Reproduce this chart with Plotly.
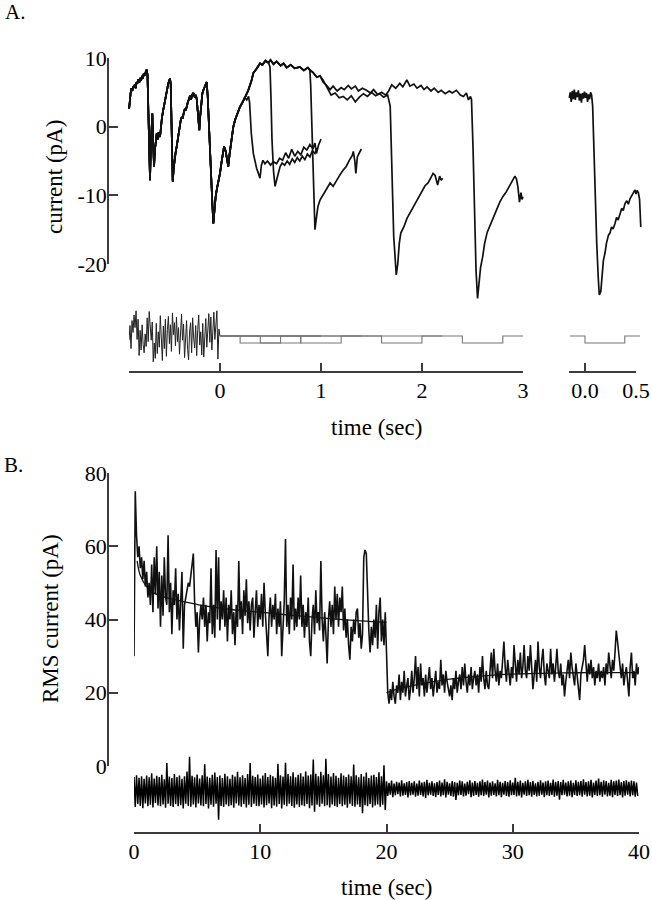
import plotly.graph_objects as go

# ======================= DATA =======================
# ---- Panel A: whole-cell current (pA) vs time (s), five overlaid sweeps ----
# segment common to all sweeps (before the first pulse response)
pre = [(-0.900, 2.6), (-0.893, 4.4), (-0.885, 4.9), (-0.877, 5.6), (-0.868, 5.2), (-0.860, 5.9),
       (-0.851, 5.7), (-0.843, 6.2), (-0.834, 5.6), (-0.826, 6.5), (-0.817, 6.3), (-0.808, 6.9),
       (-0.800, 6.4), (-0.790, 7.1), (-0.781, 6.7), (-0.772, 7.4), (-0.763, 7.0), (-0.754, 7.8),
       (-0.745, 7.5), (-0.735, 8.0), (-0.726, 8.3), (-0.718, 7.6), (-0.710, 1.0), (-0.700, -5.5),
       (-0.693, -7.8), (-0.684, -2.5), (-0.676, 1.3), (-0.670, 1.9), (-0.663, -2.0), (-0.653, -5.8),
       (-0.645, -3.5), (-0.636, -1.8), (-0.627, -1.0), (-0.618, -1.9), (-0.608, -0.8), (-0.594, -1.5),
       (-0.585, 0.2), (-0.575, 1.3), (-0.565, 2.2), (-0.555, 3.1), (-0.545, 3.8), (-0.535, 4.9),
       (-0.525, 5.5), (-0.512, 6.3), (-0.503, 6.7), (-0.495, 7.0), (-0.488, 6.2), (-0.480, -1.0),
       (-0.468, -8.0), (-0.458, -6.0), (-0.449, -4.5), (-0.439, -3.7), (-0.429, -2.9), (-0.419, -1.8),
       (-0.409, -0.6), (-0.399, 0.1), (-0.389, 0.9), (-0.379, 1.4), (-0.369, 1.2), (-0.359, 2.0),
       (-0.348, 2.6), (-0.338, 2.4), (-0.330, 3.0), (-0.318, 3.6), (-0.307, 4.0), (-0.297, 4.5),
       (-0.287, 3.9), (-0.277, 4.6), (-0.264, 4.9), (-0.250, 4.3), (-0.240, 4.6), (-0.231, 4.1),
       (-0.222, 2.5), (-0.213, 0.4), (-0.205, -0.5), (-0.196, 1.5), (-0.185, 3.6), (-0.175, 4.8),
       (-0.165, 5.3), (-0.150, 6.0), (-0.132, 6.5), (-0.122, 4.5), (-0.106, -1.9), (-0.090, -7.0),
       (-0.075, -11.5), (-0.066, -14.1), (-0.056, -12.0), (-0.043, -10.2), (-0.030, -9.0), (-0.015, -8.0),
       (0.000, -6.8), (0.015, -5.2), (0.030, -3.7), (0.040, -2.9), (0.055, -3.5), (0.070, -4.9),
       (0.082, -5.8), (0.095, -4.0), (0.110, -2.0), (0.132, 0.0), (0.150, 1.0), (0.165, 1.6),
       (0.180, 2.4), (0.198, 2.9)]

# upper plateau shared by the later sweeps
plateau = [(0.24, 4.0), (0.28, 5.3), (0.31, 6.6), (0.33, 7.8), (0.36, 8.4), (0.396, 9.2), (0.42, 9.0),
           (0.45, 9.6), (0.48, 9.3), (0.50, 9.7), (0.53, 9.1), (0.56, 9.5), (0.60, 8.9), (0.63, 9.2),
           (0.66, 8.6), (0.70, 9.0), (0.74, 8.5), (0.79, 8.7), (0.83, 8.2), (0.87, 8.6), (0.89, 8.25),
           (0.92, 7.9), (0.96, 7.2), (0.99, 7.4), (1.02, 6.5), (1.05, 6.1), (1.09, 5.4), (1.12, 5.9),
           (1.16, 5.2), (1.20, 5.7), (1.23, 5.4), (1.27, 6.0), (1.30, 5.5), (1.34, 5.9), (1.37, 5.2),
           (1.41, 5.6), (1.45, 5.3), (1.49, 4.9), (1.52, 5.4), (1.56, 4.7), (1.60, 5.0), (1.64, 4.6),
           (1.67, 5.2), (1.70, 6.1), (1.74, 5.6), (1.78, 6.3), (1.81, 5.8), (1.85, 6.8), (1.88, 5.9),
           (1.92, 6.2), (1.95, 5.6), (1.99, 6.0), (2.02, 5.4), (2.05, 5.8), (2.09, 5.2), (2.12, 5.6),
           (2.16, 5.0), (2.19, 5.3), (2.23, 4.8), (2.27, 5.2), (2.30, 4.9), (2.34, 5.3), (2.38, 4.6),
           (2.41, 4.4), (2.44, 4.9), (2.46, 3.9), (2.48, 4.4)]
# second (lower) plateau line of sweep 4
plateau_b = [(1.02, 6.8), (1.06, 5.8), (1.10, 4.6), (1.14, 4.9), (1.18, 4.2), (1.22, 4.4), (1.26, 3.9),
             (1.30, 4.5), (1.34, 3.6), (1.38, 4.3), (1.42, 4.8), (1.46, 4.4), (1.50, 5.0), (1.54, 4.5),
             (1.58, 4.8), (1.62, 4.3), (1.66, 4.6)]

tail1 = [(0.22, 3.4), (0.245, 4.3), (0.265, 3.9), (0.283, 4.4), (0.293, 3.5), (0.31, -1.0), (0.33, -3.9),
         (0.345, -5.0), (0.363, -6.1), (0.38, -6.8), (0.396, -7.5), (0.41, -5.6), (0.425, -4.9),
         (0.445, -5.4), (0.47, -5.0), (0.50, -5.6), (0.53, -5.1), (0.56, -5.4), (0.59, -4.6), (0.62, -4.9),
         (0.65, -3.8), (0.68, -4.6), (0.71, -3.3), (0.74, -4.3), (0.77, -3.6), (0.80, -4.1), (0.83, -3.0),
         (0.86, -3.4), (0.89, -2.6), (0.92, -3.2), (0.94, -2.4), (0.955, -3.9), (0.975, -2.7), (1.0, -1.8)]
tail2 = [(0.495, 8.7), (0.505, 4.0), (0.515, -2.0), (0.53, -6.5), (0.545, -8.7), (0.56, -7.8), (0.575, -6.8),
         (0.595, -5.8), (0.615, -5.3), (0.64, -5.6), (0.665, -5.0), (0.69, -5.5), (0.715, -4.7), (0.74, -5.2),
         (0.765, -4.5), (0.79, -5.0), (0.815, -4.3), (0.84, -4.8), (0.865, -4.0), (0.89, -4.4), (0.915, -3.5),
         (0.94, -3.9), (0.96, -3.1)]
tail3 = [(0.898, 6.0), (0.91, 0.0), (0.925, -8.0), (0.94, -15.0), (0.955, -13.2), (0.97, -11.6), (0.99, -10.7),
         (1.01, -10.2), (1.04, -9.5), (1.07, -8.9), (1.09, -8.2), (1.12, -8.7), (1.15, -7.9), (1.18, -7.2),
         (1.22, -6.3), (1.25, -5.8), (1.28, -4.9), (1.31, -4.2), (1.32, -3.6), (1.335, -5.0), (1.345, -6.8),
         (1.36, -4.4), (1.38, -3.8), (1.40, -3.25)]
tail4 = [(1.685, 3.0), (1.70, -6.0), (1.72, -16.0), (1.745, -21.6), (1.76, -20.0), (1.775, -17.0), (1.79, -15.5),
         (1.82, -14.6), (1.85, -13.4), (1.88, -12.6), (1.91, -11.8), (1.94, -10.9), (1.97, -10.2), (2.00, -9.5),
         (2.03, -8.6), (2.06, -8.2), (2.09, -7.4), (2.11, -6.8), (2.13, -7.1), (2.155, -8.5), (2.175, -7.2),
         (2.19, -7.8), (2.205, -7.5)]
tail5 = [(2.49, 4.0), (2.505, -3.0), (2.52, -14.0), (2.535, -21.0), (2.55, -25.0), (2.565, -23.0), (2.58, -20.5),
         (2.60, -19.0), (2.62, -17.0), (2.645, -15.4), (2.67, -14.5), (2.70, -13.4), (2.73, -12.2), (2.77, -11.0),
         (2.80, -10.2), (2.83, -9.6), (2.86, -8.8), (2.89, -8.0), (2.92, -7.2), (2.935, -7.6), (2.95, -8.8),
         (2.965, -11.0), (2.98, -9.6), (2.99, -10.6), (3.0, -10.2)]
# right-hand inset sweep (its own time base, 0 = pulse onset)
inset = [(-0.154, 4.2), (-0.145, 5.0), (-0.135, 3.6), (-0.125, 5.2), (-0.115, 4.0), (-0.105, 5.4), (-0.095, 3.9),
         (-0.085, 5.0), (-0.075, 4.3), (-0.065, 5.3), (-0.055, 3.8), (-0.045, 4.8), (-0.035, 3.5), (-0.025, 4.9),
         (-0.015, 4.1), (-0.005, 5.1), (0.005, 4.2), (0.015, 4.9), (0.025, 3.6), (0.035, 4.7), (0.045, 4.0),
         (0.055, 5.0), (0.065, 4.6), (0.075, 3.0), (0.085, -2.0), (0.10, -10.0), (0.115, -17.0), (0.13, -22.0),
         (0.14, -24.5), (0.155, -24.0), (0.165, -22.5), (0.18, -19.5), (0.196, -18.4), (0.21, -17.0),
         (0.23, -15.8), (0.245, -15.5), (0.26, -14.6), (0.275, -14.9), (0.294, -14.1), (0.31, -13.2),
         (0.325, -13.6), (0.343, -12.6), (0.36, -11.9), (0.375, -12.2), (0.392, -11.2), (0.41, -10.8),
         (0.425, -11.3), (0.441, -10.5), (0.46, -10.0), (0.475, -9.6), (0.49, -9.2), (0.50, -9.8),
         (0.51, -9.3), (0.523, -9.6), (0.535, -10.6), (0.547, -14.6)]

# stimulus (relative level: 0 = rest, -1 = pulse)
stim_noise = [-0.6, 1.5, -1.8, 2.2, 0.5, 3.0, 1.2, 3.6, -0.5, 2.4,
              -2.8, 0.8, -2.0, 1.6, -1.2, -2.4, 0.3, -1.5, 2.6, -0.8,
              3.5, 1.0, -0.6, 2.0, -3.7, -1.0, -3.2, 1.8, -2.5, 0.6,
              -1.6, 2.9, -0.4, -3.5, 1.4, -1.8, 2.4, -2.9, 0.9, 2.8,
              -1.1, 1.6, -2.2, 3.3, 0.2, 1.9, -1.4, 2.7, -0.8, 1.2,
              -2.6, 0.8, 3.1, -0.6, 1.7, -3.1, 0.4, 2.2, -1.9, -3.4,
              0.7, 1.9, -2.4, 2.6, -0.3, -1.7, 1.5, -2.8, 0.9, 3.0,
              -1.3, 0.6, -2.7, 1.8, -3.0, 0.3, 2.5, -1.6, 1.2, 3.2,
              -0.9, 2.7, -2.0, 0.8, 3.4, -0.5, 2.1, 3.6, -3.3, 1.0, 0.0]
stim_noise_t0, stim_noise_dt = -0.9, 0.01
stim_on = [0.2, 0.4, 0.8, 1.6, 2.4]
stim_off = [0.6, 0.8, 1.2, 2.0, 2.8]
stim_end = [1.0, 1.0, 1.4, 2.2, 3.0]
stim_r_t = [-0.147, 0.0, 0.0, 0.39, 0.39, 0.54]
stim_r_y = [0, 0, -1, -1, 0, 0]

# ---- Panel B: RMS current (pA), one value every 0.1 s from 0 to 40 s ----
rms_dt = 0.1
rms = [30, 75, 63, 57, 60, 54, 57, 51, 56, 49,
       53, 46, 50, 44, 55, 42, 57, 47, 60, 43,
       53, 38, 52, 41, 57, 46, 44, 63, 42, 50,
       36, 48, 44, 54, 40, 47, 37, 46, 53, 32,
       44, 46, 48, 50, 49, 52, 54, 58, 45, 38,
       42, 31, 40, 44, 40, 46, 38, 44, 34, 42,
       39, 54, 36, 44, 35, 59, 40, 57, 37, 45,
       40, 48, 38, 46, 34, 44, 40, 48, 36, 42,
       33, 44, 38, 56, 40, 45, 36, 48, 41, 51,
       39, 45, 37, 44, 46, 35, 42, 48, 38, 44,
       40, 47, 38, 50, 42, 36, 30, 41, 46, 38,
       44, 40, 47, 36, 43, 38, 45, 30, 40, 45,
       62, 38, 44, 36, 46, 40, 55, 37, 43, 38,
       46, 40, 52, 38, 44, 35, 42, 38, 46, 34,
       30, 40, 44, 36, 48, 39, 42, 37, 56, 40,
       34, 42, 36, 28, 40, 45, 38, 44, 36, 49,
       40, 47, 38, 46, 42, 49, 37, 43, 35, 40,
       33, 29, 38, 34, 40, 36, 42, 43, 35, 39,
       32, 36, 57, 59, 58, 45, 37, 31, 38, 33,
       40, 35, 44, 32, 42, 46, 34, 40, 33, 42,
       33,
       20, 17, 21, 18, 23, 19, 17, 22, 20, 25,
       18, 23, 20, 26, 19, 22, 24, 18, 21, 26,
       20, 24, 30, 21, 27, 19, 28, 22, 24, 19,
       25, 20, 23, 27, 21, 24, 19, 22, 26, 20,
       23, 21, 29, 22, 25, 20, 26, 23, 21, 19,
       22, 18, 24, 21, 26, 20, 23, 25, 21, 27,
       22, 28, 23, 20, 25, 22, 27, 21, 24, 26,
       22, 25, 20, 27, 23, 30, 24, 21, 26, 22,
       21, 25, 31, 24, 32, 26, 23, 28, 22, 26,
       24, 29, 34, 27, 23, 29, 25, 22, 27, 24,
       33, 26, 23, 29, 25, 31, 24, 27, 33, 26,
       24, 30, 26, 33, 27, 21, 25, 29, 23, 34,
       27, 24, 29, 32, 25, 22, 28, 26, 24, 32,
       25, 28, 23, 27, 32, 26, 24, 28, 22, 25,
       19, 23, 26, 29, 24, 31, 27, 25, 22, 28,
       24, 21, 18, 25, 27, 29, 33, 26, 23, 28,
       25, 29, 24, 27, 22, 26, 24, 28, 23, 26,
       24, 27, 22, 28, 25, 31, 27, 24, 29, 26,
       31, 37, 34, 30, 26, 24, 28, 22, 25, 27,
       23, 19, 27, 31, 24, 26, 22, 28, 25, 27]
# fitted curves
fit1_t = [0.25, 0.5, 1, 1.5, 2, 3, 4, 5, 6, 8, 10, 12, 14, 16, 18, 20]
fit1_y = [56, 52, 49, 47.4, 46.6, 45.6, 44.8, 44.1, 43.5, 42.6, 42.0, 41.3, 40.7, 40.1, 39.6, 39.2]
fit2_t = [20, 21, 22, 23, 24, 25, 26, 28, 30, 32, 34, 36, 38, 40]
fit2_y = [20, 21.1, 21.9, 22.6, 23.2, 23.7, 24.1, 24.7, 25.1, 25.3, 25.4, 25.5, 25.5, 25.5]

# raw current (pA) shown as max/min per 0.2 s bin
raw_bin = 0.2
raw_hi = [-3.0, -2.5, -3.2, -2.8, -3.5, -2.6, -3.1, -2.0, -3.4, -2.7,
          -3.0, -2.4, -3.6, 0.8, -2.9, -3.3, -2.2, -3.0, -2.6, -3.5,
          -2.8, -1.5, 2.5, -2.7, -3.1, -2.3, -3.4, -2.5, 0.5, -2.9,
          -3.2, -2.4, -1.8, -3.0, -2.6, -3.3, -2.1, -2.8, -3.5, -2.4,
          -2.9, -1.6, -3.1, -2.5, -3.3, -2.2, 0.8, -2.7, -3.0, -2.3,
          -3.4, -2.6, -1.9, -3.0, -2.4, -2.8, -3.2, 0.6, -2.5, -2.9,
          0.9, -2.2, -2.8, -1.7, -3.1, -2.4, -2.0, -2.9, -1.5, -2.6,
          -2.3, 1.8, -2.1, -2.8, -1.6, -2.5, 2.0, -2.2, -2.9, -1.9,
          -2.7, -3.2, -2.0, -2.6, -3.0, -2.3, -2.8, 0.4, -2.5, -3.1,
          -2.2, -2.9, -1.8, -3.3, -2.6, -2.4, -3.0, -1.7, -2.8, 0.2,
          -4.2, -4.6, -4.0, -4.8, -4.3, -4.5, -3.9, -4.7, -4.4, -4.1,
          -4.6, -4.2, -4.8, -4.0, -4.5, -4.3, -3.8, -4.6, -4.2, -4.7,
          -4.4, -4.0, -4.5, -3.6, -4.3, -4.7, -4.1, -4.4, -4.6, -4.0,
          -4.2, -4.8, -4.3, -3.9, -4.5, -4.1, -4.6, -4.2, -3.7, -4.4,
          -4.0, -4.5, -4.2, -4.7, -3.8, -4.3, -4.6, -4.1, -4.4, -3.9,
          -4.5, -3.2, -4.3, -4.0, -4.6, -4.2, -3.8, -4.4, -4.1, -4.7,
          -4.3, -3.9, -4.5, -4.2, -4.0, -4.6, -3.7, -4.3, -4.1, -4.4,
          -3.8, -4.5, -4.2, -4.0, -4.6, -3.9, -4.3, -4.1, -3.6, -4.4,
          -4.2, -3.8, -4.5, -4.0, -3.4, -4.3, -3.9, -4.1, -4.6, -3.8,
          -4.2, -4.0, -3.7, -4.4, -4.1, -3.9, -4.3, -4.0, -4.2, -4.5]
raw_lo = [-11.2, -10.4, -10.9, -11.5, -10.2, -11.0, -10.6, -11.3, -10.1, -10.8,
          -11.0, -10.5, -11.4, -10.3, -10.9, -11.2, -10.4, -11.0, -10.7, -11.6,
          -10.3, -10.9, -11.1, -10.5, -11.3, -10.2, -10.8, -11.0, -10.4, -11.6,
          -10.6, -11.1, -10.3, -14.7, -10.9, -11.2, -10.5, -11.0, -10.7, -11.4,
          -10.2, -10.8, -11.1, -10.4, -11.3, -10.6, -11.2, -10.3, -10.9, -11.0,
          -10.5, -11.3, -10.7, -10.2, -11.5, -10.8, -11.1, -10.4, -11.6, -10.6,
          -11.0, -10.3, -10.9, -11.4, -10.5, -11.2, -10.7, -11.0, -10.4, -11.5,
          -10.8, -12.5, -10.6, -11.1, -10.3, -11.0, -10.7, -11.3, -10.5, -10.9,
          -11.2, -10.4, -11.0, -10.6, -11.4, -10.3, -10.9, -11.1, -10.5, -11.2,
          -12.9, -10.7, -11.0, -10.4, -11.3, -10.8, -10.5, -11.1, -10.6, -12.0,
          -8.2, -7.8, -8.5, -8.0, -7.7, -8.3, -8.1, -7.9, -8.6, -8.0,
          -7.8, -8.4, -8.1, -7.9, -8.3, -8.7, -8.0, -7.8, -8.2, -8.5,
          -7.9, -8.3, -8.0, -8.6, -7.8, -8.2, -8.4, -9.3, -8.0, -7.9,
          -8.3, -8.1, -7.7, -8.5, -8.2, -7.9, -8.4, -8.0, -8.2, -7.8,
          -8.6, -8.1, -7.9, -8.3, -8.0, -8.5, -7.8, -8.2, -8.4, -8.0,
          -7.9, -8.3, -8.1, -8.6, -7.8, -8.2, -8.0, -8.4, -7.9, -8.3,
          -8.1, -7.8, -8.5, -8.0, -8.2, -7.9, -8.4, -8.1, -9.2, -8.0,
          -7.8, -8.3, -8.1, -8.5, -7.9, -8.2, -8.0, -8.4, -7.8, -8.3,
          -8.1, -8.6, -7.9, -8.2, -8.0, -8.4, -7.8, -8.3, -8.1, -8.5,
          -7.9, -8.2, -8.0, -8.6, -8.1, -7.8, -8.3, -8.0, -8.4, -8.2]

# tick labels
a_yticks = [-20, -10, 0, 10]
a_yticklabels = ["-20", "-10", "0", "10"]
a_xticks = [0, 1, 2, 3]
a_rticks = [0.0, 0.5]
a_rticklabels = ["0.0", "0.5"]
b_yticks = [0, 20, 40, 60, 80]
b_xticks = [0, 10, 20, 30, 40]

# ======================= LAYOUT CONSTANTS =======================
W, H = 652, 900
FONT = "Liberation Serif"
AX = "#3c3c3c"
INK = "#111111"


def xr(px0, v0, px1, v1):
    s = (px1 - px0) / (v1 - v0)
    return [v0 - px0 / s, v0 + (W - px0) / s]


def yr(py0, v0, py1, v1):
    s = (py1 - py0) / (v1 - v0)
    return [v0 + (H - py0) / s, v0 - py0 / s]


def unzip(pts):
    return [p[0] for p in pts], [p[1] for p in pts]


def upto(pts, tmax):
    return [p for p in pts if p[0] <= tmax]


fig = go.Figure()

# ---- Panel A sweeps ----
sweeps = [
    pre + tail1,
    pre + upto(plateau, 0.488) + tail2,
    pre + upto(plateau, 0.891) + tail3,
    pre + upto(plateau, 0.99) + plateau_b + tail4,
    pre + plateau + tail5,
]
for i, sw in enumerate(sweeps):
    t, y = unzip(sw)
    fig.add_trace(go.Scatter(x=t, y=y, mode="lines", line=dict(color=INK, width=1.7),
                             xaxis="x", yaxis="y2" if i < 3 else "y", hoverinfo="skip"))
t, y = unzip(inset)
fig.add_trace(go.Scatter(x=t, y=y, mode="lines", line=dict(color=INK, width=1.7),
                         xaxis="x2", yaxis="y", hoverinfo="skip"))

# ---- stimulus ----
nt = [stim_noise_t0 + i * stim_noise_dt for i in range(len(stim_noise))]
fig.add_trace(go.Scatter(x=nt, y=stim_noise, mode="lines", line=dict(color="#222222", width=1),
                         xaxis="x3", yaxis="y3", hoverinfo="skip"))
sx, sy = [], []
for on, off, end in zip(stim_on, stim_off, stim_end):
    sx += [0, on, on, off, off, end, None]
    sy += [0, 0, -1, -1, 0, 0, None]
fig.add_trace(go.Scatter(x=sx, y=sy, mode="lines", line=dict(color="#777777", width=1.1),
                         xaxis="x3", yaxis="y3", hoverinfo="skip"))
fig.add_trace(go.Scatter(x=stim_r_t, y=stim_r_y, mode="lines", line=dict(color="#777777", width=1.1),
                         xaxis="x2", yaxis="y3", hoverinfo="skip"))
# carrier for the inset time axis
fig.add_trace(go.Scatter(x=[None], y=[None], mode="lines", xaxis="x4", yaxis="y3", hoverinfo="skip"))

# ---- Panel B ----
rx, ry = [], []
for i, (hi, lo) in enumerate(zip(raw_hi, raw_lo)):
    rx += [i * raw_bin, i * raw_bin + raw_bin / 2]
    ry += [hi, lo]
fig.add_trace(go.Scatter(x=rx, y=ry, mode="lines", line=dict(color="black", width=1.5),
                         xaxis="x6", yaxis="y4", hoverinfo="skip"))
rt = [i * rms_dt for i in range(len(rms))]
fig.add_trace(go.Scatter(x=rt, y=rms, mode="lines", line=dict(color=INK, width=1.6),
                         xaxis="x6", yaxis="y4", hoverinfo="skip"))
fig.add_trace(go.Scatter(x=fit1_t, y=fit1_y, mode="lines", line=dict(color=INK, width=1.3, shape="spline"),
                         xaxis="x6", yaxis="y5", hoverinfo="skip"))
fig.add_trace(go.Scatter(x=fit2_t, y=fit2_y, mode="lines", line=dict(color=INK, width=1.3, shape="spline"),
                         xaxis="x6", yaxis="y5", hoverinfo="skip"))

tickfont = dict(family=FONT, size=22, color="black")
vis = dict(showline=True, linecolor=AX, linewidth=1.6, ticks="inside", tickwidth=1.6, tickcolor=AX,
           showgrid=False, zeroline=False, tickfont=tickfont, fixedrange=True)
hid = dict(visible=False, domain=[0, 1], fixedrange=True)

fig.update_layout(
    width=W, height=H, margin=dict(l=0, r=0, t=0, b=0, autoexpand=False),
    template="none", paper_bgcolor="white", plot_bgcolor="rgba(0,0,0,0)", showlegend=False,
    xaxis=dict(**hid, range=xr(220, 0, 523, 3)),
    xaxis2=dict(**hid, range=xr(585, 0, 636, 0.5)),
    xaxis3=dict(**vis, domain=[129 / W, 523 / W], range=[-0.9, 3.0], anchor="free", position=1 - 372 / H,
                tickvals=a_xticks, ticklen=8, ticklabelstandoff=-1),
    xaxis4=dict(**vis, domain=[569 / W, 636 / W], range=[(569 - 585) / 102, 0.5], anchor="free",
                position=1 - 372 / H, tickvals=a_rticks, ticktext=a_rticklabels, ticklen=8,
                ticklabelstandoff=-1),
    xaxis6=dict(**vis, domain=[134 / W, 639 / W], range=[0, 40], anchor="free", position=1 - 833 / H,
                tickvals=b_xticks, ticklen=8, ticklabelstandoff=-1),
    yaxis=dict(**hid, range=yr(58, 10, 264, -20)),
    yaxis2=dict(**vis, domain=[1 - 264 / H, 1 - 58 / H], range=[-20, 10], anchor="free", position=108 / W,
                tickvals=a_yticks, ticktext=a_yticklabels, ticklen=9, ticklabelstandoff=-4),
    yaxis3=dict(**hid, range=yr(336, 0, 343, -1)),
    yaxis4=dict(**hid, range=yr(473, 80, 766, 0)),
    yaxis5=dict(**vis, domain=[1 - 766 / H, 1 - 473 / H], range=[0, 80], anchor="free", position=108 / W,
                tickvals=b_yticks, ticklen=9, ticklabelstandoff=-4),
)

def label(text, px, py, size=23, angle=0, xanchor="center"):
    fig.add_annotation(text=text, x=px / W, y=1 - py / H, xref="paper", yref="paper", showarrow=False,
                       xanchor=xanchor, yanchor="middle", textangle=angle,
                       font=dict(family=FONT, size=size, color="black"))

label("A.", 3, 12, size=21, xanchor="left")
label("B.", 2, 465, size=21, xanchor="left")
label("current (pA)", 54, 177, angle=-90)
label("time (sec)", 376, 428)
label("RMS current (pA)", 50, 619, angle=-90)
label("time (sec)", 386, 887)

fig.write_html("out.html", config={"displayModeBar": False},
               post_script="document.body.style.margin='0';document.body.style.padding='0';")
